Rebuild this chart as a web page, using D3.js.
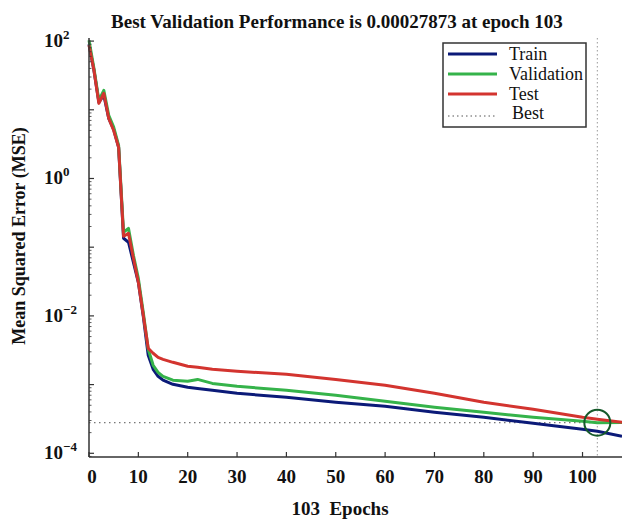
<!DOCTYPE html>
<html><head><meta charset="utf-8">
<script src="https://cdn.jsdelivr.net/npm/d3@7"></script>
<style>
body{margin:0;background:#fff;}
svg{display:block;font-family:"Liberation Serif","Times New Roman",serif;}
</style></head>
<body><svg id="c" width="622" height="520"></svg>
<script>
const epochs = [0,1,2,3,4,5,6,7,8,9,10,11,12,13,14,15,17,20,22,25,30,40,50,60,70,80,90,100,103,108];
const trainMSE = [89.8,37.6,12.9,16.3,7.5,5.2,2.85,0.135,0.118,0.0603,0.0308,0.00986,0.00267,0.00167,0.00132,0.00116,0.00101,0.000914,0.00088,0.000826,0.000746,0.000653,0.000552,0.000483,0.000395,0.000334,0.000274,0.000223,0.000209,0.000177];
const validationMSE = [102.8,40.2,13.7,19.2,8.3,5.6,3.04,0.165,0.188,0.0762,0.0352,0.01126,0.00327,0.00191,0.00151,0.00132,0.00116,0.00112,0.00119,0.00104,0.000944,0.000826,0.000698,0.000571,0.000468,0.000395,0.000334,0.000292,0.00027873,0.00028];
const testMSE = [86.9,37.6,12.4,17.4,7.5,5.0,2.85,0.144,0.159,0.0689,0.0308,0.0102,0.00337,0.00286,0.00249,0.00233,0.00211,0.00185,0.00179,0.00167,0.00156,0.00141,0.00119,0.000977,0.000746,0.000552,0.000437,0.000334,0.000313,0.000283];
const xTicks = [0,10,20,30,40,50,60,70,80,90,100];
const yTickExps = [-4,-2,0,2];
const bestEpoch = 103;
const bestValue = 0.00027873;
const seriesNames = ["Train","Validation","Test"];
const seriesColors = ["#0b1a78","#35b34a","#d3342f"];
const titleText = "Best Validation Performance is 0.00027873 at epoch 103";
const xLabelText = "103  Epochs";
const yLabelText = "Mean Squared Error (MSE)";

const svg = d3.select("#c");
const L = 89, R = 622, T = 38, B = 457;
const x = d3.scaleLinear().domain([0,108]).range([L,R]);
const y = d3.scaleLog().domain([Math.pow(10,-4.054), Math.pow(10,2.045)]).range([B,T]);

// best vertical line
svg.append("line").attr("x1",x(bestEpoch)).attr("x2",x(bestEpoch)).attr("y1",T).attr("y2",B)
  .attr("stroke","#9a9a9a").attr("stroke-width",1).attr("stroke-dasharray","1.5,2.5");
// best horizontal line
svg.append("line").attr("x1",L).attr("x2",x(bestEpoch)).attr("y1",y(bestValue)).attr("y2",y(bestValue))
  .attr("stroke","#555").attr("stroke-width",1).attr("stroke-dasharray","1.5,3.5");

// curves
const series = [trainMSE, validationMSE, testMSE];
const line = d3.line().x((d,i)=>x(epochs[i])).y(d=>y(d));
series.forEach((s,k)=>{
  svg.append("path").datum(s).attr("d",line).attr("fill","none")
    .attr("stroke",seriesColors[k]).attr("stroke-width",3).attr("stroke-linejoin","round");
});

// circle
svg.append("circle").attr("cx",x(bestEpoch)).attr("cy",y(bestValue)).attr("r",13)
  .attr("fill","none").attr("stroke","#155a2a").attr("stroke-width",2);

// axes
const ax = svg.append("g").attr("stroke","#333");
ax.append("line").attr("x1",L).attr("x2",R).attr("y1",B).attr("y2",B).attr("stroke-width",1.5);
ax.append("line").attr("x1",L).attr("x2",L).attr("y1",T).attr("y2",B).attr("stroke-width",1.5);
xTicks.forEach(t=>{
  ax.append("line").attr("x1",x(t)).attr("x2",x(t)).attr("y1",B).attr("y2",B-5).attr("stroke-width",1.2);
  svg.append("text").attr("x",x(t)+(t===0?3:0)).attr("y",483).attr("text-anchor","middle")
    .attr("font-size",19).attr("font-weight","bold").attr("fill","#111").text(t);
});
for (let e=-5;e<=2;e++){
  for (let m=1;m<10;m++){
    const v = m*Math.pow(10,e);
    if (v < y.domain()[0] || v > y.domain()[1]) continue;
    ax.append("line").attr("x1",L).attr("x2",L+(m===1?5:2.5)).attr("y1",y(v)).attr("y2",y(v))
      .attr("stroke-width",m===1?1.2:0.8);
  }
}
yTickExps.forEach(e=>{
  const t = svg.append("text").attr("x",44).attr("y",y(Math.pow(10,e))+6)
    .attr("font-size",19).attr("font-weight","bold").attr("fill","#111");
  t.append("tspan").text("10");
  t.append("tspan").attr("dy",-8).attr("font-size",13).text(e<0?"\u2212"+(-e):String(e));
});

// title & labels
svg.append("text").attr("x",337).attr("y",28).attr("text-anchor","middle")
  .attr("font-size",19).attr("font-weight","bold").attr("fill","#111").text(titleText);
svg.append("text").attr("x",340).attr("y",515).attr("text-anchor","middle").style("white-space","pre")
  .attr("font-size",19).attr("font-weight","bold").attr("fill","#111").text(xLabelText);
svg.append("text").attr("transform","translate(25,236) rotate(-90)").attr("text-anchor","middle")
  .attr("font-size",18).attr("font-weight","bold").attr("fill","#111").text(yLabelText);

// legend
const lg = svg.append("g");
lg.append("rect").attr("x",443).attr("y",43).attr("width",143).attr("height",84)
  .attr("fill","#fff").attr("stroke","#333").attr("stroke-width",1.5);
const rows = [54,74,94,113];
seriesNames.forEach((n,k)=>{
  lg.append("line").attr("x1",448).attr("x2",497).attr("y1",rows[k]).attr("y2",rows[k])
    .attr("stroke",seriesColors[k]).attr("stroke-width",3);
  lg.append("text").attr("x",509).attr("y",rows[k]+6).attr("font-size",18).attr("fill","#111").text(n);
});
lg.append("line").attr("x1",448).attr("x2",497).attr("y1",rows[3]+3).attr("y2",rows[3]+3)
  .attr("stroke","#555").attr("stroke-width",1).attr("stroke-dasharray","1.5,3");
lg.append("text").attr("x",512).attr("y",rows[3]+6).attr("font-size",18).attr("fill","#111").text("Best");
</script></body></html>
